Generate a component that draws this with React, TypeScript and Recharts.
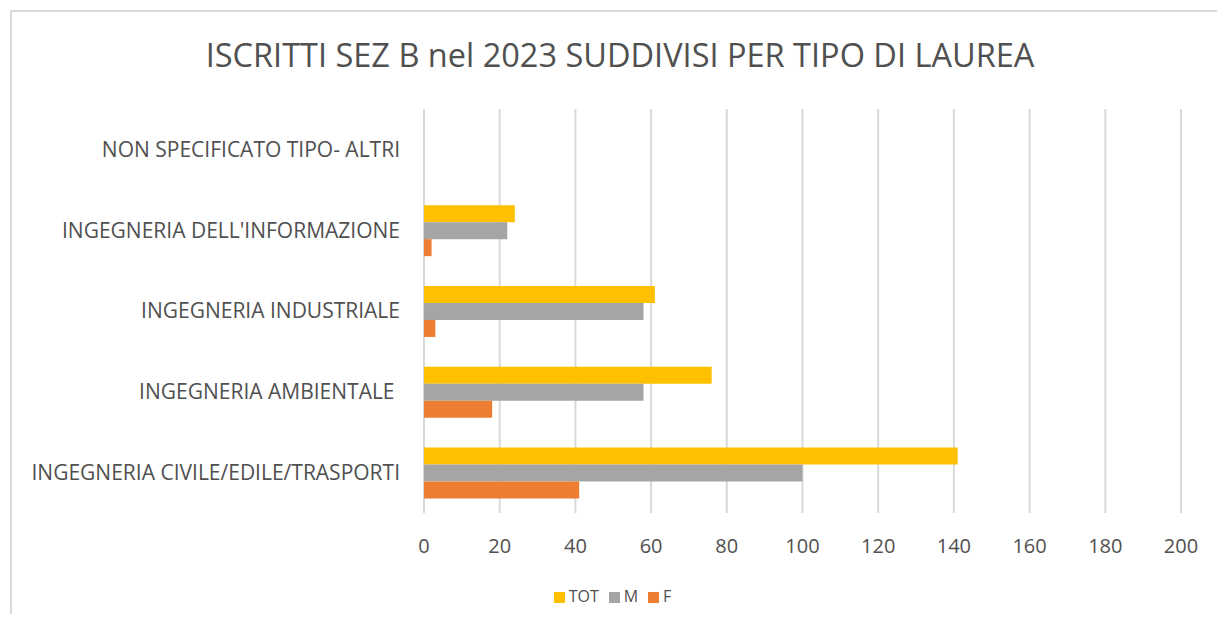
import React from 'react'
import { BarChart, Bar, XAxis, YAxis, CartesianGrid, Legend } from 'recharts'

const categories = [
  'NON SPECIFICATO TIPO- ALTRI',
  "INGEGNERIA DELL'INFORMAZIONE",
  'INGEGNERIA INDUSTRIALE',
  'INGEGNERIA AMBIENTALE ',
  'INGEGNERIA CIVILE/EDILE/TRASPORTI',
]
const totValues = [0, 24, 61, 76, 141]
const mValues = [0, 22, 58, 58, 100]
const fValues = [0, 2, 3, 18, 41]
const xTicks = [0, 20, 40, 60, 80, 100, 120, 140, 160, 180, 200]
const seriesOrder = ['TOT', 'M', 'F']

const data = categories.map((name, i) => ({
  name,
  TOT: totValues[i],
  M: mValues[i],
  F: fValues[i],
}))

const FONT = '"Open Sans", sans-serif'
const TEXT = '#505050'

export default function App() {
  return (
    <div style={{ position: 'relative', width: 1225, height: 622, margin: -8, overflow: 'hidden', background: '#fff', fontFamily: FONT }}>
      {/* chart frame, right/bottom edges fall outside the picture */}
      <div style={{ position: 'absolute', left: 10, top: 10, width: 1300, height: 700, border: '2px solid #d9d9d9' }} />
      <div style={{ position: 'absolute', left: 0, top: 0 }}>
        <BarChart
          width={1225}
          height={622}
          data={data}
          layout="vertical"
          margin={{ top: 109, right: 44, left: 0, bottom: 40 }}
          barCategoryGap="19%"
          barGap={0}
        >
          <text x={620} y={67} textAnchor="middle" fontSize={32.5} fill={TEXT} fontFamily={FONT}>
            ISCRITTI SEZ B nel 2023 SUDDIVISI PER TIPO DI LAUREA
          </text>
          <CartesianGrid horizontal={false} stroke="#d9d9d9" strokeWidth={2} />
          <XAxis
            type="number"
            domain={[0, 200]}
            ticks={xTicks}
            axisLine={false}
            tickLine={false}
            tickSize={0}
            tickMargin={26}
            height={40}
            tick={{ fontSize: 20, fill: TEXT, fontFamily: FONT }}
          />
          <YAxis
            type="category"
            dataKey="name"
            width={424}
            axisLine={false}
            tickLine={false}
            tickSize={0}
            tickMargin={24}
            tick={{ fontSize: 21, fill: TEXT, fontFamily: FONT, style: { whiteSpace: 'pre' } }}
          />
          <Legend
            verticalAlign="bottom"
            iconType="square"
            iconSize={11}
            height={29}
            itemSorter={(item: any) => seriesOrder.indexOf(item.value)}
            wrapperStyle={{ fontSize: 16, fontFamily: FONT, bottom: 8, left: 27, width: 1181 }}
            formatter={(v) => <span style={{ color: TEXT }}>{v}</span>}
          />
          <Bar dataKey="TOT" fill="#FFC000" isAnimationActive={false} />
          <Bar dataKey="M" fill="#A5A5A5" isAnimationActive={false} />
          <Bar dataKey="F" fill="#ED7D31" isAnimationActive={false} />
        </BarChart>
      </div>
    </div>
  )
}
